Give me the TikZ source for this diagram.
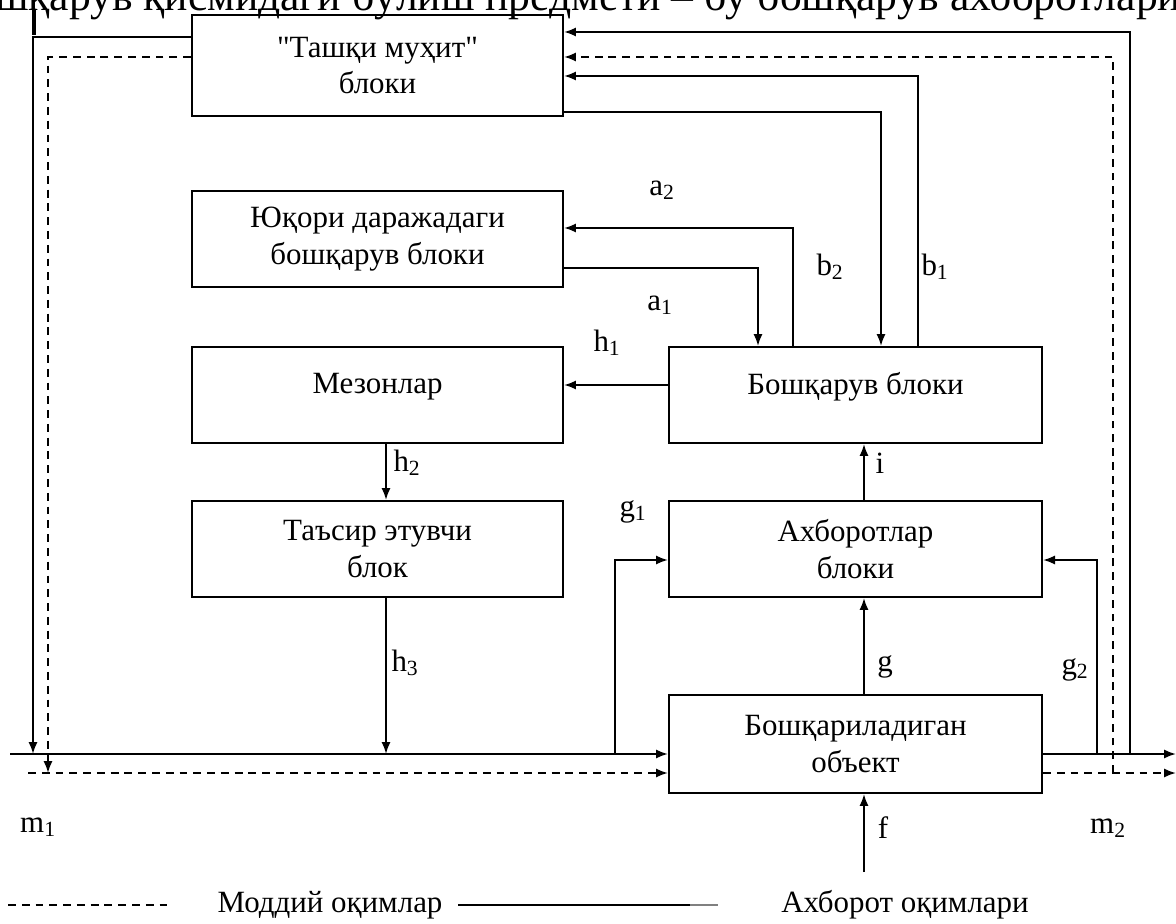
\documentclass[tikz,border=0pt]{standalone}
\usepackage{fontspec}
\setmainfont{Liberation Serif}
\usetikzlibrary{arrows.meta}
\tikzset{
  box/.style={draw, line width=1.4pt, inner sep=0pt, align=center,
    font=\fontsize{22}{26}\selectfont},
  lbox/.style={box, minimum width=9.275cm, minimum height=2.4cm},
  rbox/.style={box, minimum width=9.325cm, minimum height=2.4cm},
  flow/.style={line width=1.4pt, -{Latex[length=8.5pt,width=6.5pt]}},
  mat/.style={flow, dash pattern=on 5.6pt off 4.2pt},
  lab/.style={inner sep=0pt, font=\fontsize{22}{24}\selectfont},
}
\begin{document}
\begin{tikzpicture}[x=0.025cm, y=-0.025cm]
\useasboundingbox (0,0) rectangle (1176,924);
\clip (0,0) rectangle (1176,924);
\fill[white] (0,0) rectangle (1176,924);

% cut-off text line at the top (only its lower part is visible)
\node[anchor=base west, inner sep=0pt, font=\fontsize{31}{31}\selectfont] (toptext) at (-52,11)
  {Бошқарув қисмидаги бўлиш предмети -- бу бошқарув ахборотлари};
\draw[line width=3pt] (34,10) -- (34,35);

% blocks
\node[lbox, minimum height=2.525cm] (T) at (377.5,65.5) {\textquotedbl Ташқи муҳит\textquotedbl\\блоки};
\node[lbox] (Y) at (377.5,239) {Юқори даражадаги\\бошқарув блоки};
\node[lbox] (M) at (377.5,395) {\raisebox{17pt}{Мезонлар}};
\node[lbox] (E) at (377.5,549) {Таъсир этувчи\\блок};
\node[rbox] (B) at (855.5,395) {\raisebox{17pt}{Бошқарув блоки}};
\node[rbox] (A) at (855.5,549) {Ахборотлар\\блоки};
\node[rbox, minimum height=2.45cm] (O) at (855.5,744) {Бошқариладиган\\объект};

% free ends
\coordinate (inS) at (10,754);
\coordinate (inD) at (28,773);
\coordinate (outS) at (1176,754);
\coordinate (outD) at (1176,773);
\coordinate (fIn) at (864,872);

% input / output flows
\draw[flow] (inS) -- (O.west |- inS);
\draw[mat] (inD) -- (O.west |- inD);
\draw[flow] (O.east |- inS) -- (outS);
\draw[mat] (O.east |- inD) -- (outD);

% environment links
\draw[flow] (T.west |- 0,37) -| (inS -| 33,0);
\draw[mat] (T.west |- 0,57) -| (inD -| 48,0);
\draw[flow] (inS -| 1130,0) |- (T.east |- 0,32);
\draw[mat] (inD -| 1113,0) |- (T.east |- 0,57);
\draw[flow] (B.north -| 918,0) |- (T.east |- 0,76);
\draw[flow] (T.east |- 0,112) -| (B.north -| 881,0);

% upper level control
\draw[flow] (B.north -| 793,0) |- (Y.east |- 0,228);
\draw[flow] (Y.east |- 0,268) -| (B.north -| 758,0);

% control chain
\draw[flow] (B.west |- 0,385) -- (M.east |- 0,385);
\draw[flow] (M.south -| 386,0) -- (E.north -| 386,0);
\draw[flow] (E.south -| 386,0) -- (inS -| 386,0);

% information
\draw[flow] (inS -| 615,0) |- (A.west |- 0,560);
\draw[flow] (inS -| 1097,0) |- (A.east |- 0,560);
\draw[flow] (A.north -| 864,0) -- (B.south -| 864,0);
\draw[flow] (O.north -| 864,0) -- (A.south -| 864,0);
\draw[flow] (fIn) -- (O.south -| fIn);

% labels
\node[lab] (la2) at (662,190) {a\textsubscript{2}};
\node[lab] (la1) at (660,305) {a\textsubscript{1}};
\node[lab] (lb2) at (830,267) {b\textsubscript{2}};
\node[lab] (lb1) at (935,267) {b\textsubscript{1}};
\node[lab] (lh1) at (607,343) {h\textsubscript{1}};
\node[lab] (lh2) at (407,463) {h\textsubscript{2}};
\node[lab] (lh3) at (405,663) {h\textsubscript{3}};
\node[lab] (lg1) at (633,512) {g\textsubscript{1}};
\node[lab] (li) at (880,463) {i};
\node[lab] (lg) at (885,667) {g};
\node[lab] (lg2) at (1075,670) {g\textsubscript{2}};
\node[lab] (lf) at (883,828) {f};
\node[lab] (lm1) at (38,827) {m\textsubscript{1}};
\node[lab] (lm2) at (1108,828) {m\textsubscript{2}};

% legend
\draw[line width=1.4pt, dash pattern=on 5.6pt off 4.2pt] (8,905) -- (170,905);
\node[lab] (leg1) at (330,905) {Моддий оқимлар};
\draw[line width=1.4pt] (458,905) -- (690,905);
\draw[line width=1.8pt, gray] (690,905) -- (718,905);
\node[lab] (leg2) at (905,905) {Ахборот оқимлари};
\end{tikzpicture}
\end{document}
